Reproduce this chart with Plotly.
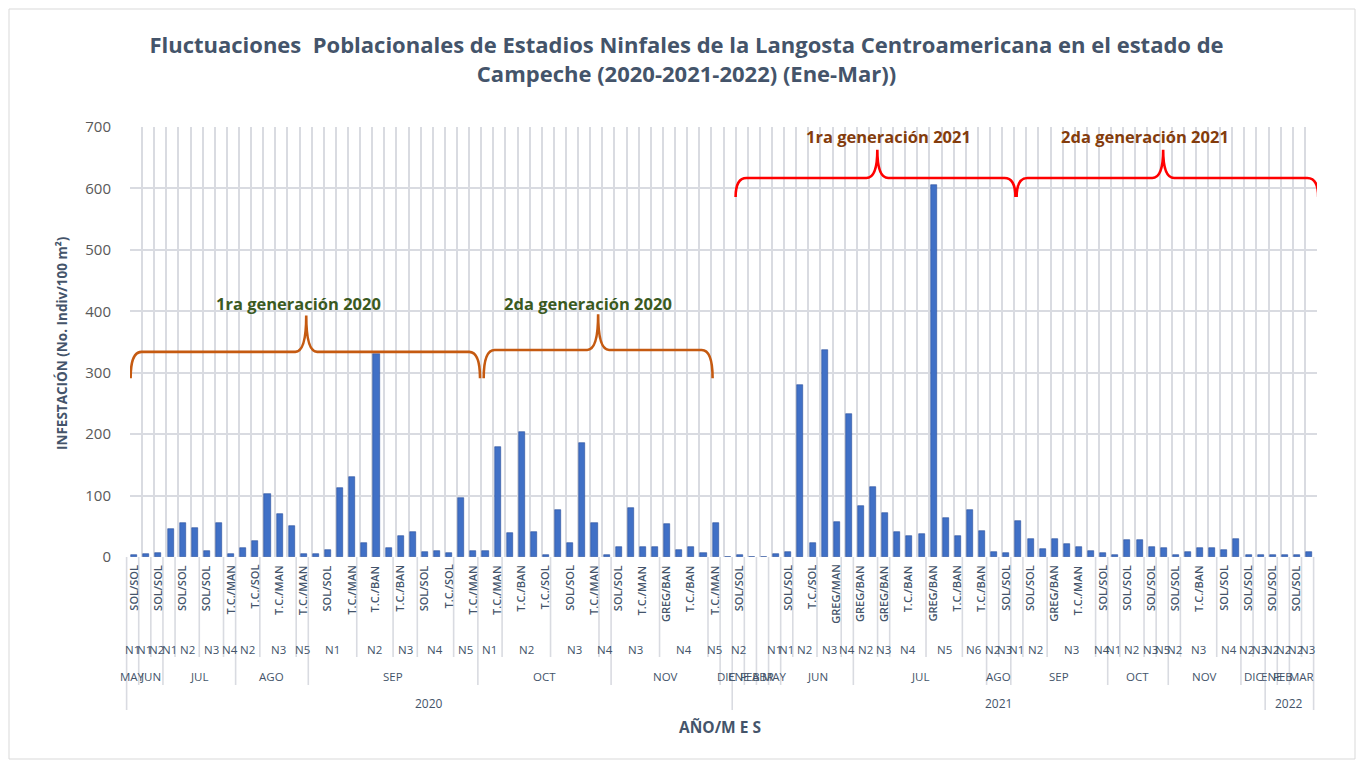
import plotly.graph_objects as go

# ---------------- data ----------------
YEARS = (
    ["2020"] * 50 + ["2021"] * 44 + ["2022"] * 4
)
MONTHS = [
    "MAY",
    "JUN", "JUN",
    "JUL", "JUL", "JUL", "JUL", "JUL", "JUL",
    "AGO", "AGO", "AGO", "AGO", "AGO", "AGO",
    "SEP", "SEP", "SEP", "SEP", "SEP", "SEP", "SEP", "SEP", "SEP", "SEP", "SEP", "SEP", "SEP", "SEP",
    "OCT", "OCT", "OCT", "OCT", "OCT", "OCT", "OCT", "OCT", "OCT", "OCT", "OCT",
    "NOV", "NOV", "NOV", "NOV", "NOV", "NOV", "NOV", "NOV", "NOV",
    "DIC",
    "ENE", "FEB", "ABR", "MAY",
    "JUN", "JUN", "JUN", "JUN", "JUN", "JUN",
    "JUL", "JUL", "JUL", "JUL", "JUL", "JUL", "JUL", "JUL", "JUL", "JUL", "JUL",
    "AGO", "AGO",
    "SEP", "SEP", "SEP", "SEP", "SEP", "SEP", "SEP", "SEP",
    "OCT", "OCT", "OCT", "OCT", "OCT",
    "NOV", "NOV", "NOV", "NOV", "NOV", "NOV",
    "DIC", "DIC",
    "ENE", "FEB", "MAR", "MAR",
]
STAGES = [
    "N1",
    "N1", "N2",
    "N1", "N2", "N2", "N3", "N3", "N4",
    "N2", "N2", "N3", "N3", "N3", "N5",
    "N1", "N1", "N1", "N1", "N2", "N2", "N2", "N3", "N3", "N4", "N4", "N4", "N5", "N5",
    "N1", "N1", "N2", "N2", "N2", "N2", "N3", "N3", "N3", "N3", "N4",
    "N3", "N3", "N3", "N3", "N4", "N4", "N4", "N4", "N5",
    "",
    "N2", "", "", "N1",
    "N1", "N2", "N2", "N3", "N3", "N4",
    "N2", "N2", "N3", "N4", "N4", "N4", "N5", "N5", "N5", "N6", "N6",
    "N2", "N3",
    "N1", "N2", "N2", "N3", "N3", "N3", "N3", "N4",
    "N1", "N2", "N2", "N3", "N5",
    "N2", "N3", "N3", "N3", "N4", "N4",
    "N2", "N3",
    "N2", "N2", "N2", "N3",
]
# innermost labels, shown on every second category
SITES_SHOWN = [
    "SOL/SOL", "SOL/SOL", "SOL/SOL", "SOL/SOL", "T.C./MAN", "T.C./SOL", "T.C./MAN", "T.C./MAN",
    "SOL/SOL", "T.C./MAN", "T.C./BAN", "T.C./BAN", "SOL/SOL", "T.C./SOL", "T.C./MAN", "T.C./MAN",
    "T.C./BAN", "T.C./SOL", "SOL/SOL", "T.C./MAN", "SOL/SOL", "T.C./MAN", "GREG/BAN", "T.C./BAN",
    "T.C./MAN", "SOL/SOL", "", "SOL/SOL", "T.C./SOL", "GREG/MAN", "GREG/BAN", "GREG/BAN",
    "T.C./BAN", "GREG/BAN", "T.C./BAN", "T.C./BAN", "SOL/SOL", "SOL/SOL", "GREG/BAN", "T.C./MAN",
    "SOL/SOL", "SOL/SOL", "SOL/SOL", "SOL/SOL", "T.C./BAN", "SOL/SOL", "SOL/SOL", "SOL/SOL",
    "SOL/SOL",
]
VALUES = [
    3, 5, 6, 45, 55, 48, 9, 55, 5, 15,
    26, 102, 70, 50, 5, 5, 12, 112, 131, 23,
    330, 14, 34, 40, 8, 10, 6, 96, 10, 10,
    179, 39, 203, 40, 3, 77, 23, 186, 56, 4,
    16, 80, 17, 17, 53, 12, 16, 6, 56, 0,
    4, 0, 0, 5, 8, 280, 22, 337, 57, 233,
    83, 114, 72, 41, 35, 37, 605, 63, 35, 77,
    42, 8, 7, 59, 29, 13, 30, 21, 16, 10,
    6, 4, 28, 27, 16, 14, 4, 8, 15, 14,
    11, 29, 4, 4, 4, 4, 3, 8,
]

GEN_LABELS = ["1ra generación 2020", "2da generación 2020", "1ra generación 2021", "2da generación 2021"]

# ---------------- layout constants ----------------
PAGE_OFF = 8                      # default body margin of the html page
W, H = 1365 - PAGE_OFF, 763 - PAGE_OFF
PLOT_L, PLOT_R, PLOT_T, PLOT_B = 130, 1317, 127, 557   # target plot box in window pixels
ML, MT = PLOT_L - PAGE_OFF, PLOT_T - PAGE_OFF
MR, MB = 1365 - PLOT_R, 763 - PLOT_B
PW, PH = W - ML - MR, H - MT - MB
N = len(VALUES)
X = list(range(N))
XR = [-0.5, N - 0.5]
LABEL_SHIFT = -0.28
TXT = "#44546a"
GRID = "#d9dbe1"
FONT = "'Open Sans', sans-serif"


def py(px):
    return (PLOT_B - px) / PH


def pxx(px):
    return (px - PLOT_L) / PW


def xpaper(xd):
    return (xd - XR[0]) / (XR[1] - XR[0])


def runs(keys):
    out, start = [], 0
    for i in range(1, len(keys) + 1):
        if i == len(keys) or keys[i] != keys[start]:
            out.append((start, i, keys[start]))
            start = i
    return out


fig = go.Figure()
fig.add_trace(go.Bar(
    x=X, y=VALUES, offset=-0.40, width=0.50,
    marker=dict(color="#4070c6", line=dict(color="#2a4f9c", width=0.6)),
    hoverinfo="y",
))

annotations = []
shapes = []

# innermost rotated labels
for k, lab in enumerate(SITES_SHOWN):
    if lab:
        annotations.append(dict(
            x=2 * k + LABEL_SHIFT, xref="x", y=py(563), yref="paper",
            text=lab, textangle=-90, showarrow=False, xanchor="center", yanchor="top",
            font=dict(family=FONT, size=11, color=TXT, weight=600),
        ))

year_runs = runs(YEARS)
month_runs = runs(list(zip(YEARS, MONTHS)))
stage_runs = runs(list(zip(YEARS, MONTHS, STAGES)))

level_y = {"stage": 649, "month": 676, "year": 703}
level_size = {"stage": 11.5, "month": 11.5, "year": 12}
for rr, lvl in ((stage_runs, "stage"), (month_runs, "month"), (year_runs, "year")):
    for s, e, key in rr:
        text = key if isinstance(key, str) else key[-1]
        if not text:
            continue
        annotations.append(dict(
            x=(s + e - 1) / 2 + LABEL_SHIFT, xref="x", y=py(level_y[lvl]), yref="paper",
            text=text, showarrow=False, xanchor="center", yanchor="middle",
            font=dict(family=FONT, size=level_size[lvl], color=TXT),
        ))

# divider lines between groups
ends = {"stage": 657, "month": 685, "year": 710}
bset = {lvl: set() for lvl in ends}
for rr, lvl in ((stage_runs, "stage"), (month_runs, "month"), (year_runs, "year")):
    for s, e, _ in rr:
        bset[lvl].add(s)
        bset[lvl].add(e)
for b in sorted(bset["stage"] | bset["month"] | bset["year"]):
    lvl = "year" if b in bset["year"] else ("month" if b in bset["month"] else "stage")
    xp = xpaper(b - 0.5 + LABEL_SHIFT)
    shapes.append(dict(type="line", xref="paper", yref="paper", x0=xp, x1=xp,
                       y0=0, y1=py(ends[lvl]), line=dict(color=GRID, width=1.6), layer="below"))


# braces
def brace(x0, x1, xt, ym, ye, yt, dx):
    return (f"M {x0},{ye} Q {x0},{ym} {x0 + dx},{ym} L {xt - dx},{ym} "
            f"Q {xt},{ym} {xt},{yt} Q {xt},{ym} {xt + dx},{ym} L {x1 - dx},{ym} "
            f"Q {x1},{ym} {x1},{ye}")


BRACES = [
    (-0.45, 28.4, 14.05, 334, 291, 393, 0.9, "#c55a11"),
    (28.7, 47.6, 38.15, 337, 291, 395, 0.9, "#c55a11"),
    (49.5, 72.6, 61.2, 617, 586, 663, 0.9, "#ff0000"),
    (72.7, 97.6, 84.8, 617, 586, 663, 0.9, "#ff0000"),
]
for x0, x1, xt, ym, ye, yt, dx, col in BRACES:
    shapes.append(dict(type="path", xref="x", yref="y", path=brace(x0, x1, xt, ym, ye, yt, dx),
                       line=dict(color=col, width=2.6)))

GEN_POS = [(13.4, 412, "#3b5a1f"), (37.3, 412, "#3b5a1f"), (62.1, 685, "#843c0c"), (83.3, 685, "#843c0c")]
for lab, (gx, gy, col) in zip(GEN_LABELS, GEN_POS):
    annotations.append(dict(x=gx, y=gy, xref="x", yref="y", text=f"<b>{lab}</b>", showarrow=False,
                            xanchor="center", yanchor="middle",
                            font=dict(family=FONT, size=16.5, color=col)))

# axis titles
annotations.append(dict(x=pxx(62), y=py(343), xref="paper", yref="paper",
                        text="<b>INFESTACIÓN (No. Indiv/100 m²)</b>", textangle=-90, showarrow=False,
                        xanchor="center", yanchor="middle",
                        font=dict(family=FONT, size=13.5, color=TXT)))
annotations.append(dict(x=pxx(720), y=py(727), xref="paper", yref="paper",
                        text="<b>AÑO/M E S</b>", showarrow=False, xanchor="center", yanchor="middle",
                        font=dict(family=FONT, size=15.5, color=TXT)))

# outer frame
shapes.append(dict(type="rect", xref="paper", yref="paper", x0=pxx(9), x1=pxx(1355), y0=py(759), y1=py(9),
                   line=dict(color="#d9d9d9", width=1)))

fig.update_layout(
    width=W, height=H,
    margin=dict(l=ML, r=MR, t=MT, b=MB),
    paper_bgcolor="white", plot_bgcolor="white",
    showlegend=False,
    title=dict(
        text="<b>Fluctuaciones  Poblacionales de Estadios Ninfales de la Langosta Centroamericana en el estado de"
             "<br>Campeche (2020-2021-2022) (Ene-Mar))</b>",
        x=0.5, xref="container", xanchor="center", y=1 - 45 / H, yref="container", yanchor="top",
        font=dict(family=FONT, size=22, color=TXT),
    ),
    xaxis=dict(range=XR, tick0=-0.5, dtick=1, showgrid=True, gridcolor=GRID, gridwidth=2,
               showticklabels=False, zeroline=False, showline=False, ticks=""),
    yaxis=dict(range=[0, 700], dtick=100, showgrid=True, gridcolor=GRID, gridwidth=2,
               zeroline=False, showline=False, ticks="", ticklabelstandoff=18,
               tickfont=dict(family=FONT, size=15, color="#595959")),
    annotations=annotations,
    shapes=shapes,
    bargap=0,
)

fig.write_html("out.html")
